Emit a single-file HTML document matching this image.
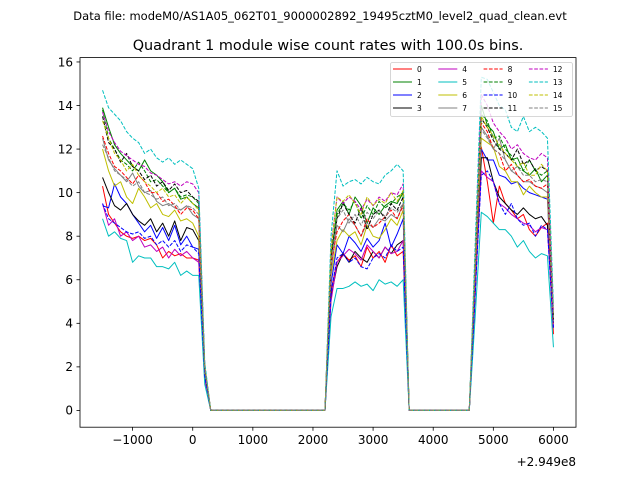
<!DOCTYPE html>
<html><head><meta charset="utf-8"><style>
body{margin:0;background:#fff}
svg{display:block;font-family:"DejaVu Sans","Liberation Sans",sans-serif}
</style></head><body>
<svg id="chart" width="640" height="480" xmlns="http://www.w3.org/2000/svg">
<text x="320" y="20" font-size="11.5" text-anchor="middle">Data file: modeM0/AS1A05_062T01_9000002892_19495cztM0_level2_quad_clean.evt</text>
<text x="328" y="50" font-size="14.4" text-anchor="middle">Quadrant 1 module wise count rates with 100.0s bins.</text>
<g id="plot"></g>
<g id="axes"></g>
<g id="legend"></g>
</svg>
<script>
const xStart = -1500, xStep = 100;
const series0 = [10.3,9.0,8.6,8.2,8.0,7.9,8.0,7.8,7.9,7.6,7.0,7.3,7.1,7.2,7.0,7.0,6.9,1.5,0,0,0,0,0,0,0,0,0,0,0,0,0,0,0,0,0,0,0,0,5.5,6.8,7.2,6.9,7.1,6.6,7.5,7.0,7.3,6.8,7.6,7.1,7.3,0,0,0,0,0,0,0,0,0,0,0,5.5,12.1,10.5,8.6,10.3,9.5,9.2,8.8,9.0,8.3,8.0,8.4,8.6,3.5];
const series1 = [13.9,13.0,12.2,11.8,11.5,11.2,11.0,11.5,11.0,10.8,10.5,10.0,10.2,9.7,9.8,9.5,9.3,1.8,0,0,0,0,0,0,0,0,0,0,0,0,0,0,0,0,0,0,0,0,7.0,9.2,9.6,9.0,9.8,9.4,8.6,9.3,9.0,9.4,9.6,9.5,10.0,0,0,0,0,0,0,0,0,0,0,0,6.5,14.0,13.1,12.8,12.0,12.2,11.5,11.6,11.0,10.8,11.1,10.5,10.8,4.0];
const series2 = [9.4,9.3,10.4,9.8,9.5,9.0,8.6,8.2,8.5,7.9,8.4,7.8,8.5,7.6,8.0,7.5,7.4,1.6,0,0,0,0,0,0,0,0,0,0,0,0,0,0,0,0,0,0,0,0,5.8,7.6,7.2,8.0,7.7,7.3,7.9,7.5,7.8,8.6,7.5,8.1,8.8,0,0,0,0,0,0,0,0,0,0,0,5.8,12.0,11.5,11.5,10.8,10.7,10.4,10.5,10.2,10.0,9.9,9.8,9.7,4.0];
const series3 = [10.7,10.0,9.4,9.2,9.5,9.0,8.7,8.5,8.8,8.2,8.6,8.0,8.7,7.8,8.4,8.3,7.8,1.7,0,0,0,0,0,0,0,0,0,0,0,0,0,0,0,0,0,0,0,0,5.2,6.6,7.2,6.8,7.3,7.0,6.8,7.3,7.0,7.5,7.2,7.6,7.8,0,0,0,0,0,0,0,0,0,0,0,5.5,11.6,11.6,10.5,9.8,9.5,9.2,9.0,9.3,9.0,8.8,8.9,8.5,4.0];
const series4 = [9.5,8.5,8.8,8.0,8.2,7.8,8.0,7.5,7.6,7.3,7.5,7.0,7.4,7.1,7.3,7.0,6.8,1.4,0,0,0,0,0,0,0,0,0,0,0,0,0,0,0,0,0,0,0,0,5.0,6.8,7.1,7.4,7.2,6.9,7.6,7.3,7.0,7.5,7.2,7.3,7.8,0,0,0,0,0,0,0,0,0,0,0,5.5,11.0,10.7,10.5,9.5,9.3,9.0,8.8,8.6,8.5,8.2,8.4,8.3,3.8];
const series5 = [8.8,8.0,8.2,7.9,7.8,6.8,7.1,7.0,7.0,6.6,6.6,6.5,6.8,6.2,6.4,6.2,6.2,1.2,0,0,0,0,0,0,0,0,0,0,0,0,0,0,0,0,0,0,0,0,4.3,5.6,5.6,5.7,5.9,5.7,5.8,5.5,6.0,5.8,5.9,5.7,6.0,0,0,0,0,0,0,0,0,0,0,0,4.4,9.1,8.9,8.6,8.3,8.3,8.0,7.5,7.8,7.3,7.0,7.2,7.1,2.9];
const series6 = [12.0,11.0,10.3,10.5,9.8,9.5,10.2,9.8,9.3,9.5,9.0,8.9,9.2,8.7,8.8,8.6,8.0,1.7,0,0,0,0,0,0,0,0,0,0,0,0,0,0,0,0,0,0,0,0,6.2,7.8,8.3,8.0,8.2,7.6,8.5,8.0,7.9,8.3,8.8,8.5,9.2,0,0,0,0,0,0,0,0,0,0,0,6.3,12.5,12.3,12.1,11.2,11.0,10.5,10.5,9.9,10.3,10.0,9.8,9.8,4.0];
const series7 = [12.5,11.5,11.1,10.8,10.5,10.9,10.3,10.0,10.1,9.6,9.4,9.5,9.3,9.2,9.4,9.0,8.8,1.8,0,0,0,0,0,0,0,0,0,0,0,0,0,0,0,0,0,0,0,0,6.4,8.5,8.2,8.8,8.5,8.0,8.6,8.4,8.8,8.7,9.0,8.8,9.5,0,0,0,0,0,0,0,0,0,0,0,6.5,13.0,12.6,12.0,12.5,11.5,11.0,10.8,10.5,10.5,10.3,10.2,10.0,4.2];
const series8 = [12.6,11.8,11.2,11.0,10.7,10.4,10.8,10.5,10.0,10.0,9.6,9.7,9.4,9.0,9.3,9.2,8.8,1.9,0,0,0,0,0,0,0,0,0,0,0,0,0,0,0,0,0,0,0,0,6.7,8.2,8.7,9.0,8.5,8.0,8.8,8.4,8.6,8.9,9.2,8.8,9.4,0,0,0,0,0,0,0,0,0,0,0,6.5,13.2,12.8,12.0,11.8,11.0,11.3,10.8,10.5,10.6,10.3,10.2,10.4,4.0];
const series9 = [13.8,12.5,12.0,11.5,11.3,11.0,11.4,11.0,10.5,10.6,10.3,10.0,10.2,9.8,9.9,9.8,9.5,2.0,0,0,0,0,0,0,0,0,0,0,0,0,0,0,0,0,0,0,0,0,7.2,9.0,9.5,9.2,9.6,8.8,9.4,9.0,9.6,9.3,9.5,9.8,10.0,0,0,0,0,0,0,0,0,0,0,0,7.0,13.6,13.3,12.5,12.6,12.0,11.7,11.2,11.0,11.5,11.0,10.8,11.0,4.2];
const series10 = [9.5,8.8,8.6,8.4,8.2,8.1,8.2,7.9,8.0,7.6,7.8,7.5,7.8,7.3,7.6,7.5,7.2,1.6,0,0,0,0,0,0,0,0,0,0,0,0,0,0,0,0,0,0,0,0,5.4,7.0,7.2,6.8,7.0,6.6,6.5,7.0,7.2,7.0,7.6,7.3,7.5,0,0,0,0,0,0,0,0,0,0,0,5.5,10.8,11.0,10.5,9.5,9.0,9.5,8.8,8.5,8.6,8.0,8.5,8.3,3.8];
const series11 = [13.5,12.3,12.0,11.4,11.8,11.2,11.0,10.6,10.8,10.3,10.5,10.1,10.4,10.0,10.1,9.8,9.6,2.0,0,0,0,0,0,0,0,0,0,0,0,0,0,0,0,0,0,0,0,0,7.0,8.8,9.5,9.0,8.6,9.3,8.3,9.0,9.2,8.8,9.5,9.2,9.8,0,0,0,0,0,0,0,0,0,0,0,6.8,13.4,13.0,12.4,12.0,11.8,11.5,12.0,11.3,11.5,11.0,11.2,11.0,4.2];
const series12 = [13.7,12.8,12.3,11.9,11.7,11.5,11.3,11.2,10.9,10.8,10.6,10.4,10.5,10.3,10.5,10.4,10.0,2.1,0,0,0,0,0,0,0,0,0,0,0,0,0,0,0,0,0,0,0,0,7.5,9.8,9.5,9.8,9.6,9.2,9.7,9.4,9.8,9.6,10.0,9.9,10.4,0,0,0,0,0,0,0,0,0,0,0,7.2,14.5,14.0,13.2,12.8,12.5,12.0,12.2,11.8,11.6,11.5,11.8,11.6,4.5];
const series13 = [14.7,13.9,13.6,13.3,12.8,12.5,12.3,11.8,12.0,11.6,11.4,11.6,11.3,11.5,11.3,11.1,10.2,2.2,0,0,0,0,0,0,0,0,0,0,0,0,0,0,0,0,0,0,0,0,8.0,11.0,10.3,10.5,10.6,10.4,10.7,10.5,10.4,10.8,11.0,11.3,11.0,0,0,0,0,0,0,0,0,0,0,0,7.8,15.3,15.2,14.6,14.0,13.8,13.0,12.8,13.5,12.8,13.0,12.8,12.5,4.8];
const series14 = [13.3,12.5,11.8,11.5,11.0,11.3,10.8,10.5,10.3,10.0,10.2,9.8,9.9,9.5,9.8,9.5,9.2,2.0,0,0,0,0,0,0,0,0,0,0,0,0,0,0,0,0,0,0,0,0,7.4,9.8,9.6,9.9,9.5,9.0,9.8,9.4,9.7,9.5,10.0,9.6,10.1,0,0,0,0,0,0,0,0,0,0,0,7.0,13.5,13.0,12.6,12.2,11.8,11.5,11.2,11.4,10.8,10.8,11.3,11.0,4.3];
const series15 = [12.2,11.6,11.0,10.8,10.6,10.3,10.5,10.0,9.9,9.7,9.8,9.4,9.5,9.2,9.4,9.3,9.0,1.9,0,0,0,0,0,0,0,0,0,0,0,0,0,0,0,0,0,0,0,0,6.8,8.8,9.2,8.6,9.0,8.5,9.1,8.8,9.2,8.9,9.3,9.1,9.5,0,0,0,0,0,0,0,0,0,0,0,6.6,12.9,12.5,12.0,11.8,11.5,11.0,11.2,10.8,10.8,10.5,10.6,10.5,4.1];
const seriesNames = ["0","1","2","3","4","5","6","7","8","9","10","11","12","13","14","15"];
const xTicks = [-1000,0,1000,2000,3000,4000,5000,6000];
const xTickLabels = ["\u22121000","0","1000","2000","3000","4000","5000","6000"];
const yTicks = [0,2,4,6,8,10,12,14,16];

const allSeries=[series0,series1,series2,series3,series4,series5,series6,series7,series8,series9,series10,series11,series12,series13,series14,series15];
const colors=["#ff0000","#008000","#0000ff","#000000","#bf00bf","#00bfbf","#bfbf00","#808080"];
const L=80,R=576,T=57.6,B=427.2,xMin=-1875,xMax=6375,yMin=-0.77,yMax=16.2;
const sx=v=>L+(v-xMin)/(xMax-xMin)*(R-L);
const sy=v=>B-(v-yMin)/(yMax-yMin)*(B-T);
const NS="http://www.w3.org/2000/svg";
function mk(tag,attrs,parent){const e=document.createElementNS(NS,tag);for(const k in attrs)e.setAttribute(k,attrs[k]);parent.appendChild(e);return e;}
const plot=document.getElementById('plot'),axes=document.getElementById('axes'),leg=document.getElementById('legend');
const defs=mk('defs',{},plot);const cp=mk('clipPath',{id:'clip'},defs);mk('rect',{x:L,y:T,width:R-L,height:B-T},cp);
const g=mk('g',{'clip-path':'url(#clip)'},plot);
allSeries.forEach((s,k)=>{
  const pts=s.map((v,i)=>sx(xStart+i*xStep).toFixed(2)+','+sy(v).toFixed(2)).join(' ');
  const p=mk('polyline',{points:pts,fill:'none',stroke:colors[k%8],'stroke-width':1,'stroke-linejoin':'round'},g);
  if(k>=8)p.setAttribute('stroke-dasharray','3.7,1.6');
  
  
});
const frame=mk('rect',{x:L,y:T,width:R-L,height:B-T,fill:'none',stroke:'#000','stroke-width':0.8},axes);


xTicks.forEach((t,i)=>{
  const x=sx(t);
  mk('line',{x1:x,x2:x,y1:B,y2:B+3.5,stroke:'#000','stroke-width':0.8},axes);
  const tx=mk('text',{x:x,y:B+17,'font-size':12,'text-anchor':'middle'},axes);tx.textContent=xTickLabels[i];
  
  
});
yTicks.forEach(t=>{
  const y=sy(t);
  mk('line',{x1:L-3.5,x2:L,y1:y,y2:y,stroke:'#000','stroke-width':0.8},axes);
  const tx=mk('text',{x:L-7,y:y+4.3,'font-size':12,'text-anchor':'end'},axes);tx.textContent=String(t);
  
  
});
const off=mk('text',{x:576,y:466,'font-size':12,'text-anchor':'end'},axes);off.textContent='+2.949e8';


const lb=mk('rect',{x:390.5,y:62.5,width:182,height:54,rx:2,fill:'#fff','fill-opacity':0.8,stroke:'#ccc','stroke-width':0.8},leg);


seriesNames.forEach((n,k)=>{
  const col=Math.floor(k/4),row=k%4;
  const x0=393+col*45.3,y0=69+row*13;
  const ln=mk('line',{x1:x0,x2:x0+19,y1:y0,y2:y0,stroke:colors[k%8],'stroke-width':1},leg);
  if(k>=8)ln.setAttribute('stroke-dasharray','3.7,1.6');
  const tx=mk('text',{x:x0+24,y:y0+2.8,'font-size':7.5},leg);tx.textContent=n;
  
  
});
</script>
</body></html>
